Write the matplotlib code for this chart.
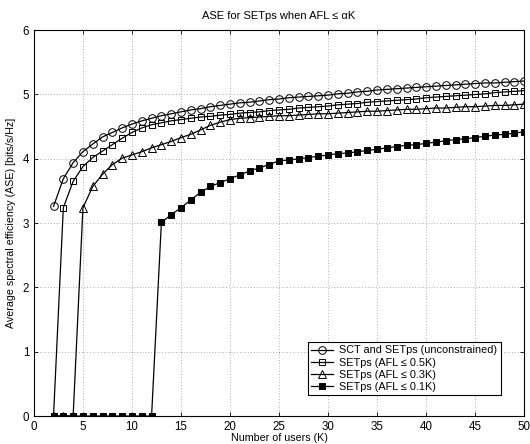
import matplotlib
matplotlib.use("Agg")
import matplotlib.pyplot as plt
import numpy as np

plt.rcParams['font.family'] = ['Liberation Sans', 'DejaVu Sans']

users = list(range(2, 51))

ase_unconstrained = [3.26, 3.69, 3.94, 4.11, 4.23, 4.34, 4.41, 4.48, 4.54, 4.59,
                     4.63, 4.67, 4.70, 4.73, 4.76, 4.78, 4.81, 4.83, 4.85, 4.87,
                     4.88, 4.90, 4.92, 4.93, 4.95, 4.96, 4.97, 4.98, 4.99, 5.01,
                     5.02, 5.04, 5.05, 5.07, 5.08, 5.09, 5.10, 5.11, 5.12, 5.13,
                     5.14, 5.15, 5.16, 5.17, 5.18, 5.18, 5.19, 5.20, 5.21]
ase_afl05 = [0.0, 3.24, 3.65, 3.88, 4.02, 4.12, 4.22, 4.32, 4.41, 4.48,
             4.53, 4.56, 4.59, 4.61, 4.63, 4.65, 4.66, 4.68, 4.69, 4.71,
             4.72, 4.73, 4.75, 4.76, 4.77, 4.79, 4.80, 4.81, 4.82, 4.84,
             4.85, 4.86, 4.88, 4.89, 4.90, 4.91, 4.92, 4.93, 4.95, 4.96,
             4.97, 4.98, 4.99, 5.00, 5.01, 5.03, 5.04, 5.05, 5.06]
ase_afl03 = [0.0, 0.0, 0.0, 3.24, 3.57, 3.76, 3.91, 4.01, 4.06, 4.11,
             4.17, 4.22, 4.27, 4.33, 4.38, 4.45, 4.52, 4.57, 4.61, 4.63,
             4.64, 4.65, 4.66, 4.67, 4.67, 4.68, 4.69, 4.70, 4.70, 4.71,
             4.72, 4.73, 4.74, 4.74, 4.75, 4.76, 4.77, 4.77, 4.78, 4.79,
             4.79, 4.80, 4.81, 4.81, 4.82, 4.83, 4.83, 4.84, 4.85]
ase_afl01 = [0.0, 0.0, 0.0, 0.0, 0.0, 0.0, 0.0, 0.0, 0.0, 0.0,
             0.0, 3.01, 3.13, 3.24, 3.36, 3.48, 3.57, 3.63, 3.69, 3.75,
             3.81, 3.86, 3.91, 3.97, 3.98, 4.00, 4.02, 4.04, 4.06, 4.08,
             4.09, 4.11, 4.13, 4.15, 4.17, 4.19, 4.21, 4.22, 4.24, 4.26,
             4.28, 4.30, 4.31, 4.33, 4.35, 4.37, 4.38, 4.40, 4.42]

labels = ['SCT and SETps (unconstrained)',
          'SETps (AFL \u2264 0.5K)',
          'SETps (AFL \u2264 0.3K)',
          'SETps (AFL \u2264 0.1K)']

fig = plt.figure(figsize=(5.30, 4.44), dpi=100)
ax = fig.add_axes([0.064, 0.063, 0.925, 0.869])

lw = 0.9
ms = 5.5
ax.plot(users, ase_unconstrained, '-o', color='black', lw=lw, ms=ms, mfc='none', mew=0.7, label=labels[0])
ax.plot(users, ase_afl05, '-s', color='black', lw=lw, ms=ms - 0.7, mfc='none', mew=0.7, label=labels[1])
ax.plot(users, ase_afl03, '-^', color='black', lw=lw, ms=ms, mfc='none', mew=0.7, label=labels[2])
ax.plot(users, ase_afl01, '-s', color='black', lw=lw, ms=ms - 0.7, mfc='black', mew=0.7, label=labels[3])

ax.set_xlim(0, 50)
ax.set_ylim(0, 6)
ax.set_xticks(range(0, 51, 5))
ax.set_yticks(range(0, 7))
ax.grid(True, linestyle=(0, (1, 3)), color='black', linewidth=0.5, alpha=0.6)
ax.tick_params(direction='in', top=True, right=True, labelsize=8.3, length=3, width=0.6)
for s in ax.spines.values():
    s.set_linewidth(0.8)

ax.set_title('ASE for SETps when AFL \u2264 \u03b1K', fontsize=8, pad=8)
ax.set_xlabel('Number of users (K)', fontsize=7.7, labelpad=0)
ax.set_ylabel('Average spectral efficiency (ASE) [bits/s/Hz]', fontsize=7.7, labelpad=5)

leg = ax.legend(loc='lower right', bbox_to_anchor=(0.963, 0.04), fontsize=7.8,
                frameon=True, fancybox=False, edgecolor='black', framealpha=1,
                handlelength=2.0, handletextpad=0.6, borderpad=0.3, labelspacing=0.2)
leg.get_frame().set_linewidth(0.8)

fig.savefig('out.png', dpi=100)
